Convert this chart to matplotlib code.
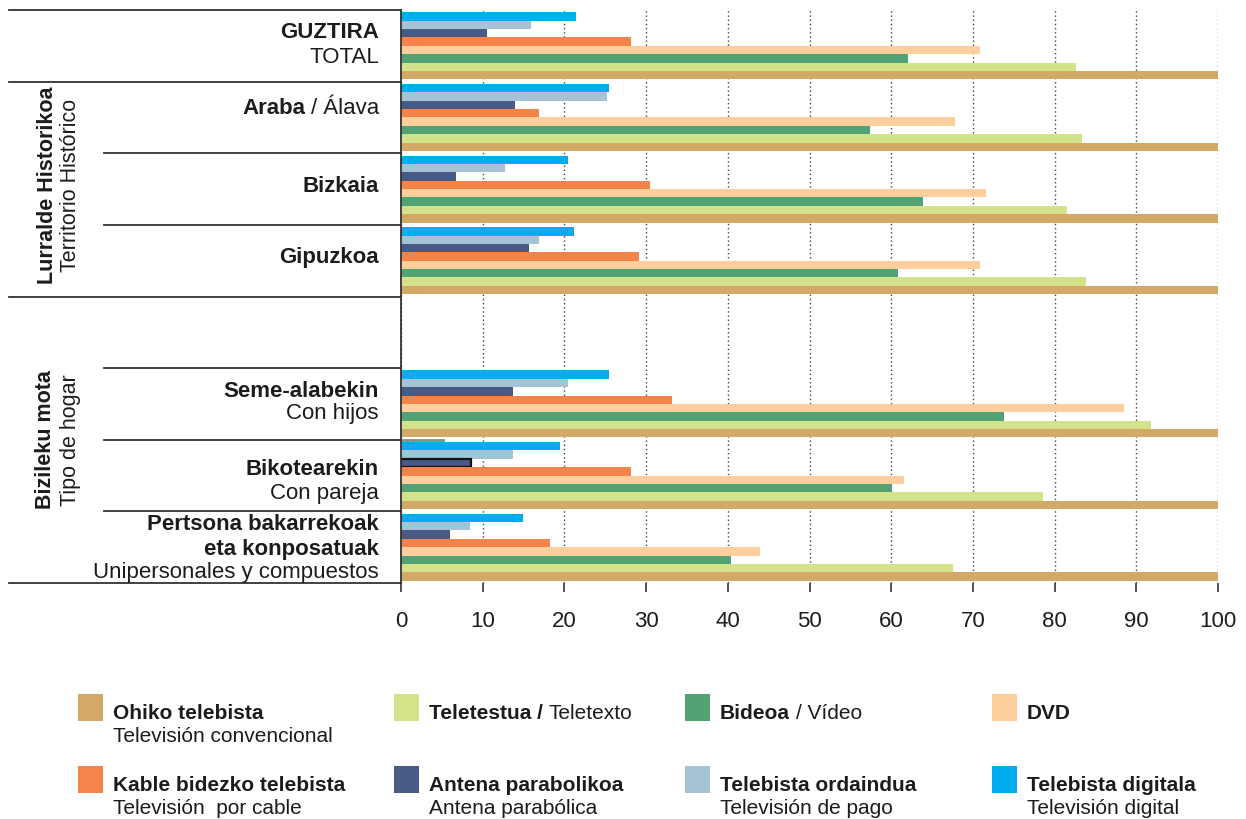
import numpy as np
import matplotlib
matplotlib.use('Agg')
from matplotlib import pyplot as plt
from matplotlib.patches import Rectangle

plt.rcParams['font.family'] = ['Liberation Sans', 'DejaVu Sans']

# rows of the table (slot 4 is left empty in the original)
rows = ['GUZTIRA', 'Araba', 'Bizkaia', 'Gipuzkoa', 'Seme-alabekin', 'Bikotearekin', 'Pertsona bakarrekoak']
row_slot = [0, 1, 2, 3, 5, 6, 7]

# series, drawn from top to bottom inside each row
digitala = [21.4, 25.5, 20.4, 21.2, 25.5, 19.5, 14.9]
ordaindua = [15.9, 25.2, 12.7, 16.9, 20.4, 13.7, 8.4]
antena = [10.5, 14.0, 6.7, 15.7, 13.7, 8.6, 6.0]
kable = [28.2, 16.9, 30.5, 29.1, 33.2, 28.2, 18.2]
dvd = [70.9, 67.8, 71.6, 70.9, 88.5, 61.6, 43.9]
bideoa = [62.0, 57.4, 63.9, 60.8, 73.8, 60.1, 40.4]
teletestua = [82.6, 83.3, 81.5, 83.8, 91.8, 78.6, 67.6]
ohiko = [100, 100, 100, 100, 100, 100, 100]

series = [digitala, ordaindua, antena, kable, dvd, bideoa, teletestua, ohiko]
colors = ['#00ADEF', '#A5C3D4', '#475B86', '#F5844A', '#FDCF9D', '#52A274', '#D4E28A', '#D2A966']

ticks = [0, 10, 20, 30, 40, 50, 60, 70, 80, 90, 100]

legend_bold = ['Ohiko telebista', 'Teletestua /', 'Bideoa', 'DVD',
               'Kable bidezko telebista', 'Antena parabolikoa', 'Telebista ordaindua', 'Telebista digitala']
legend_norm = ['Televisión convencional', 'Teletexto', '/ Vídeo', '',
               'Televisión  por cable', 'Antena parabólica', 'Televisión de pago', 'Televisión digital']
legend_color = ['#D2A966', '#D4E28A', '#52A274', '#FDCF9D', '#F5844A', '#475B86', '#A5C3D4', '#00ADEF']
legend_inline = [False, True, True, False, False, False, False, False]

TXT = '#1E1B1C'
LINE = '#333333'
W, H = 1246, 819

fig = plt.figure(figsize=(W / 100, H / 100), dpi=100)
ax = fig.add_axes([401 / W, 1 - 583 / H, (1218 - 401) / W, (583 - 10) / H])

bh = 0.117
ypos = np.array(row_slot) + 0.5
conts = []
for j, (vals, c) in enumerate(zip(series, colors)):
    b = ax.barh(ypos + (j - 3.5) * bh, vals, height=bh, color=c, zorder=3, linewidth=0)
    conts.append(b)
# the outlined bar of the original
conts[2][5].set_edgecolor('#111111')
conts[2][5].set_linewidth(1.6)

ax.set_xlim(0, 100)
ax.set_ylim(8, 0)
ax.set_xticks(ticks)
ax.set_yticks([])
ax.grid(axis='x', linestyle=(0, (1, 2)), color='#444444', linewidth=1.0, zorder=0)
for s in ['top', 'right', 'bottom']:
    ax.spines[s].set_visible(False)
ax.spines['left'].set_color(LINE)
ax.spines['left'].set_linewidth(1.3)
ax.spines['left'].set_zorder(5)
ax.tick_params(axis='x', direction='out', length=6.5, width=1.2, color=LINE,
               pad=14, labelsize=16, labelcolor=TXT)

# little grey stray line from the source
ax.plot([0, 5.2], [6, 6], color='#8a8a8a', lw=2, clip_on=False, zorder=4)

# table lines on the left
full_x, inner_x = -48.0, -36.3
for k in [0, 1, 4, 8]:
    ax.plot([full_x, 0], [k, k], color=LINE, lw=1.3, clip_on=False)
for k in [2, 3, 5, 6, 7]:
    ax.plot([inner_x, 0], [k, k], color=LINE, lw=1.3, clip_on=False)

tx = -2.7
fs = 16
def lab(y, s, bold=False):
    return ax.text(tx, y, s, ha='right', va='center', fontsize=fs, color=TXT,
                   fontweight='bold' if bold else 'normal', clip_on=False)

lab(0.32, 'GUZTIRA', True)
lab(0.66, 'TOTAL')
t = lab(1.38, '/ Álava')
ax.annotate('Araba', xy=(0, 0), xycoords=t, xytext=(-4, 0), textcoords='offset points',
            ha='right', va='bottom', fontsize=fs, fontweight='bold', color=TXT)
lab(2.47, 'Bizkaia', True)
lab(3.46, 'Gipuzkoa', True)
lab(5.32, 'Seme-alabekin', True)
lab(5.64, 'Con hijos')
lab(6.41, 'Bikotearekin', True)
lab(6.75, 'Con pareja')
lab(7.19, 'Pertsona bakarrekoak', True)
lab(7.53, 'eta konposatuak', True)
lab(7.85, 'Unipersonales y compuestos')

vfs = 15.5
ax.text(-43.3, 2.45, 'Lurralde Historikoa', rotation=90, ha='center', va='center',
        fontsize=vfs, fontweight='bold', color=TXT, clip_on=False)
ax.text(-40.4, 2.45, 'Territorio Histórico', rotation=90, ha='center', va='center',
        fontsize=vfs, color=TXT, clip_on=False)
ax.text(-43.5, 6.0, 'Bizileku mota', rotation=90, ha='center', va='center',
        fontsize=vfs, fontweight='bold', color=TXT, clip_on=False)
ax.text(-40.5, 6.0, 'Tipo de hogar', rotation=90, ha='center', va='center',
        fontsize=vfs, color=TXT, clip_on=False)

# legend, built by hand
def px(x, y):
    return x / W, 1 - y / H

col_x = [78, 394, 685, 992]
row_y = [694, 766]
lfs = 15
for i in range(8):
    cx = col_x[i % 4]
    ry = row_y[i // 4]
    fig.patches.append(Rectangle(px(cx, ry + 27), 25 / W, 27 / H, transform=fig.transFigure,
                                 facecolor=legend_color[i], edgecolor='none'))
    bx, by = px(cx + 35, ry + 25)
    tb = fig.text(bx, by, legend_bold[i], fontsize=lfs, fontweight='bold', color=TXT,
                  ha='left', va='baseline')
    if legend_norm[i] == '':
        continue
    if legend_inline[i]:
        ax.annotate(legend_norm[i], xy=(1, 0), xycoords=tb, xytext=(4, 0), textcoords='offset points',
                    ha='left', va='bottom', fontsize=lfs, color=TXT, annotation_clip=False)
    else:
        nx, ny = px(cx + 35, ry + 48)
        fig.text(nx, ny, legend_norm[i], fontsize=lfs, color=TXT, ha='left', va='baseline')

plt.savefig('out.png', dpi=100)
